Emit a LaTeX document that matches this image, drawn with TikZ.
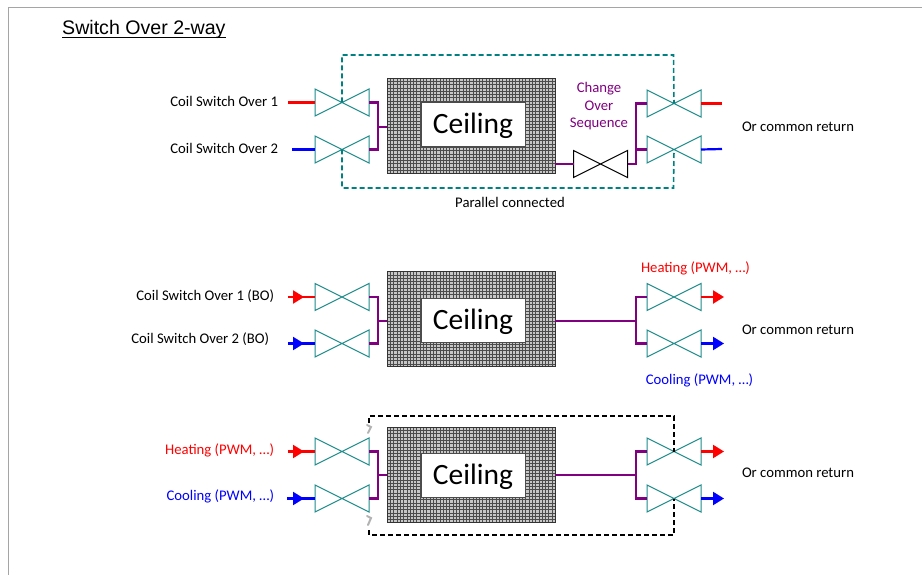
\documentclass[tikz,border=0pt]{standalone}
\usepackage{fontspec}
\setmainfont{Carlito}
\newfontfamily\arialf{Liberation Sans}
\usetikzlibrary{arrows.meta}
\definecolor{valveteal}{RGB}{30,140,140}
\definecolor{dashteal}{RGB}{0,128,128}
\definecolor{busp}{RGB}{128,0,128}
\definecolor{framegray}{RGB}{165,165,165}
\tikzset{
  valvebox/.style={minimum width=54pt,minimum height=27pt,inner sep=0pt,outer sep=0pt},
  valveline/.style={draw=valveteal,line width=1pt,line join=miter},
  blackvalve/.style={draw=black,line width=1pt,line join=miter},
  bus/.style={draw=busp,line width=2.3pt,line join=miter},
  teald/.style={draw=dashteal,line width=1.6pt,dash pattern=on 5pt off 3pt},
  blackd/.style={draw=black,line width=1.6pt,dash pattern=on 5pt off 3pt},
  hotline/.style={draw=red,line width=2.2pt},
  coldline/.style={draw=blue,line width=2.2pt},
  hothead/.style={draw=red,line width=2.2pt,-{Triangle[length=11pt,width=13pt]}},
  coldhead/.style={draw=blue,line width=2.2pt,-{Triangle[length=11pt,width=13pt]}},
  lbl/.style={font=\fontsize{14.7}{17}\selectfont,inner sep=0pt,outer sep=0pt},
  ceilbox/.style={minimum width=168pt,minimum height=95pt,inner sep=0pt,outer sep=0pt,fill=black!22,draw=black!80,line width=0.8pt,
    path picture={
      \foreach \i in {0,...,51}{\draw[black!70,line width=0.6pt] ([xshift=\i*3.3pt]path picture bounding box.north west) -- ([xshift=\i*3.3pt]path picture bounding box.south west);}
      \foreach \i in {0,...,29}{\draw[black!70,line width=0.6pt] ([yshift=-\i*3.3pt]path picture bounding box.north west) -- ([yshift=-\i*3.3pt]path picture bounding box.north east);}
    }},
  ceillabel/.style={fill=white,draw=black!70,line width=0.4pt,minimum width=104pt,minimum height=44pt,inner sep=0pt,text height=25pt,text depth=6pt,font=\fontsize{29.5}{34}\selectfont},
  smudge/.style={draw=black!30,line width=2pt,line cap=round}
}
\newcommand{\mkvalve}[3][valveline]{%
  \node[valvebox] (#2) at (#3) {};
  \draw[#1] (#2.north west) -- (#2.south east) -- (#2.north east) -- (#2.south west) -- cycle;}
\begin{document}
\begin{tikzpicture}[x=1pt,y=-1pt]
\useasboundingbox (0,0) rectangle (922,575);
\fill[white] (0,0) rectangle (922,575);
\coordinate (ftop) at (922,7.5);
\coordinate (fcorner) at (8,7.5);
\coordinate (fbot) at (8,575);
\draw[framegray,line width=1pt] (ftop) -- (fcorner) -- (fbot);
\node[anchor=west,inner sep=0pt,font=\arialf\fontsize{19.6}{22}\selectfont] (title) at (62,29.5) {Switch Over 2-way};
\draw[black,line width=1pt] (title.south west) ++(0,-1) -- ([yshift=1pt]title.south east);

% ---- Group 1
\node[ceilbox] (c1) at (471,125.5) {};
\node[ceillabel] (c1l) at (473,124) {Ceiling};
\mkvalve{a1}{342,102.5}
\mkvalve{a2}{342,149.5}
\mkvalve{a3}{674,103.5}
\mkvalve{a4}{674,149.5}
\mkvalve[blackvalve]{cos}{600.5,164}
\coordinate (ab1) at (378,127);
\coordinate (ar1) at (288,102.5);
\coordinate (ar2) at (292,149.5);
\coordinate (ar3) at (722,103.5);
\coordinate (ar4) at (722,149);
\coordinate (at1) at (342,55);
\coordinate (at2) at (673.5,55);
\coordinate (ad1) at (342,188);
\coordinate (ad2) at (673.5,188);
\draw[bus] (a1.east) -| (ab1) |- (a2.east);
\draw[bus] (ab1) -- (ab1 -| c1.west);
\draw[bus] (c1.east |- cos.west) -- (cos.west);
\draw[bus] (cos.east) -| (636,103.5) -- (a3.west);
\draw[bus] (636,149.5) -- (a4.west);
\draw[hotline] (ar1) -- (a1.west);
\draw[coldline] (ar2) -- (a2.west);
\draw[hotline] (a3.east) -- (ar3);
\draw[coldline] (a4.east) -- (ar4);
\draw[teald] (a1.center) -- (at1) -- (at2) -- (a3.center);
\draw[teald] (a2.center) -- (ad1) -- (ad2) -- (a4.center);
\node[lbl,anchor=east] (t1) at (278,101) {Coil Switch Over 1};
\node[lbl,anchor=east] (t2) at (278,148.5) {Coil Switch Over 2};
\node[lbl,text=busp,align=center,font=\fontsize{14.7}{17.5}\selectfont] (t3) at (599,106.5) {Change\\Over\\Sequence};
\node[lbl,anchor=west] (t4) at (742,126.5) {Or common return};
\node[lbl] (t5) at (510,202.5) {Parallel connected};

% ---- Group 2
\node[ceilbox] (c2) at (471,319) {};
\node[ceillabel] (c2l) at (473,320) {Ceiling};
\mkvalve{b1}{342,297}
\mkvalve{b2}{342,343.5}
\mkvalve{b3}{674,297}
\mkvalve{b4}{674,343.5}
\coordinate (bb1) at (378,321);
\coordinate (bb2) at (636,321);
\coordinate (br1) at (288,297);
\coordinate (br2) at (288,343.5);
\coordinate (brh1) at (304,297);
\coordinate (brh2) at (304,343.5);
\coordinate (br3) at (724,297);
\coordinate (br4) at (724,343.5);
\draw[bus] (b1.east) -| (bb1) |- (b2.east);
\draw[bus] (bb1) -- (bb1 -| c2.west);
\draw[bus] (c2.east |- bb2) -- (bb2);
\draw[bus] (b3.west) -| (bb2) |- (b4.west);
\draw[hotline] (br1) -- (b1.west);
\draw[coldline] (br2) -- (b2.west);
\draw[hothead] (br1) -- (brh1);
\draw[coldhead] (br2) -- (brh2);
\draw[hothead] (b3.east) -- (br3);
\draw[coldhead] (b4.east) -- (br4);
\node[lbl,anchor=east] (t6) at (274,296.5) {Coil Switch Over 1 (BO)};
\node[lbl,anchor=east] (t7) at (269,339.5) {Coil Switch Over 2 (BO)};
\node[lbl,text=red] (t8) at (695.5,268.5) {Heating (PWM, …)};
\node[lbl,text=blue] (t9) at (699.5,380.5) {Cooling (PWM, …)};
\node[lbl,anchor=west] (t10) at (742,329.5) {Or common return};

% ---- Group 3
\node[ceilbox] (c3) at (471,474.5) {};
\node[ceillabel] (c3l) at (473,475) {Ceiling};
\mkvalve{d1}{342,451.5}
\mkvalve{d2}{342,498.5}
\mkvalve{d3}{674,451.5}
\mkvalve{d4}{674,498.5}
\coordinate (db1) at (378,475);
\coordinate (db2) at (636,475);
\coordinate (dr1) at (288,451.5);
\coordinate (dr2) at (287,498.5);
\coordinate (drh1) at (304,451.5);
\coordinate (drh2) at (304,498.5);
\coordinate (dr3) at (724,451.5);
\coordinate (dr4) at (724,498.5);
\coordinate (dk1) at (369,416);
\coordinate (dk2) at (674,416);
\coordinate (dk3) at (369,535);
\coordinate (dk4) at (674,535);
\coordinate (dk5) at (369,423);
\coordinate (dk6) at (369,530);
\draw[bus] (d1.east) -| (db1) |- (d2.east);
\draw[bus] (db1) -- (db1 -| c3.west);
\draw[bus] (c3.east |- db2) -- (db2);
\draw[bus] (d3.west) -| (db2) |- (d4.west);
\draw[hotline] (dr1) -- (d1.west);
\draw[coldline] (dr2) -- (d2.west);
\draw[hothead] (dr1) -- (drh1);
\draw[coldhead] (dr2) -- (drh2);
\draw[hothead] (d3.east) -- (dr3);
\draw[coldhead] (d4.east) -- (dr4);
\draw[blackd] (dk5) -- (dk1) -- (dk2) -- (d3.center);
\draw[blackd] (dk6) -- (dk3) -- (dk4) -- (d4.center);
\draw[smudge] (367,425) -- (371,427) -- (368,433);
\draw[smudge] (367,516) -- (371,518) -- (368,525);
\node[lbl,anchor=east,text=red] (t11) at (274,450.5) {Heating (PWM, …)};
\node[lbl,anchor=east,text=blue] (t12) at (274,496.5) {Cooling (PWM, …)};
\node[lbl,anchor=west] (t13) at (742,472.5) {Or common return};
\end{tikzpicture}
\end{document}
